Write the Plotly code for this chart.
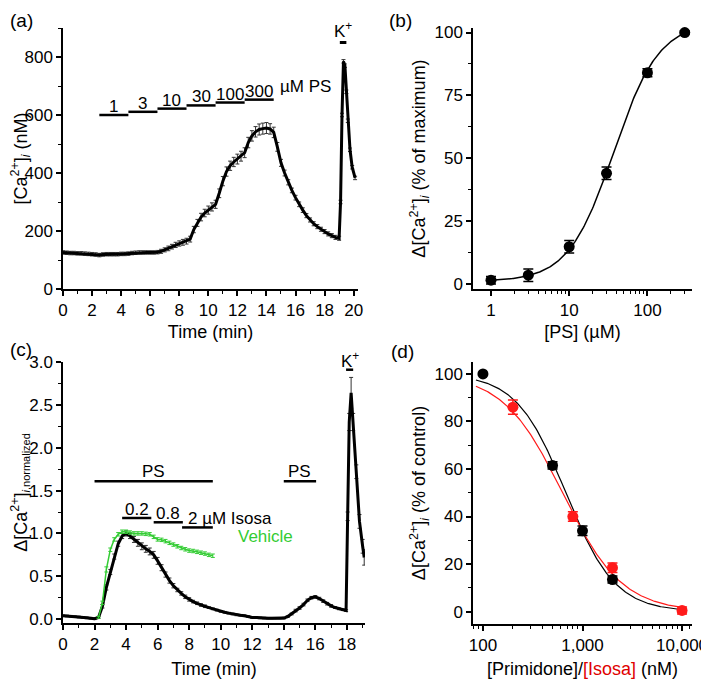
import plotly.graph_objects as go
import numpy as np

# page body adds an 8 px margin; the figure is sized so it fits the 709x679 window
OFF = 8
W, H = 709 - OFF, 679 - OFF
FONT = "Liberation Sans, Arial, sans-serif"
GREEN = "#33cc33"
RED = "#ff1a1a"

# ---------------- Panel (a) data ----------------
a_time = [0, 0.25, 0.5, 0.75, 1, 1.25, 1.5, 1.75, 2, 2.25, 2.5, 2.75, 3, 3.25, 3.5, 3.75,
          4, 4.25, 4.5, 4.75, 5, 5.25, 5.5, 5.75, 6, 6.25, 6.5, 6.75, 7, 7.25, 7.5, 7.75,
          8, 8.25, 8.5, 8.75, 9, 9.25, 9.5, 9.75, 10, 10.25, 10.5, 10.75, 11, 11.25, 11.5, 11.75,
          12, 12.25, 12.5, 12.75, 13, 13.25, 13.5, 13.75, 14, 14.25, 14.5, 14.75, 15, 15.25, 15.5, 15.75,
          16, 16.25, 16.5, 16.75, 17, 17.25, 17.5, 17.75, 18, 18.25, 18.5, 18.75, 19.0,
          19.1, 19.2, 19.3, 19.4, 19.5, 19.6, 19.75, 19.9, 20.1]
a_ca = [126, 125, 124, 124, 123, 123, 122, 121, 120, 119, 117, 119, 120, 120, 120, 120,
        121, 121, 122, 124, 125, 126, 126, 126, 126, 126, 127, 130, 135, 140, 146, 152,
        157, 161, 165, 172, 205, 228, 248, 262, 272, 283, 292, 330, 372, 405, 425, 438,
        448, 458, 470, 505, 528, 542, 550, 553, 555, 552, 540, 490, 435, 400, 368, 340,
        315, 292, 272, 253, 238, 225, 215, 206, 198, 190, 184, 178, 175,
        300, 600, 785, 770, 680, 580, 480, 420, 383]
a_err = [6, 6, 6, 6, 6, 6, 6, 6, 6, 6, 6, 6, 6, 6, 6, 6,
         6, 6, 6, 6, 6, 6, 6, 6, 6, 6, 6, 7, 7, 8, 8, 9,
         9, 10, 10, 10, 11, 12, 13, 13, 14, 14, 14, 15, 16, 16, 16, 16,
         17, 17, 17, 18, 18, 18, 19, 19, 19, 18, 18, 15, 12, 10, 9, 8,
         8, 8, 8, 7, 7, 7, 7, 7, 7, 7, 7, 7, 7,
         6, 6, 6, 6, 6, 6, 6, 6, 6]
a_conc_labels = ["1", "3", "10", "30", "100", "300"]
a_conc_start = [2.5, 4.5, 6.5, 8.5, 10.5, 12.5]
a_conc_end = [4.5, 6.5, 8.5, 10.5, 12.5, 14.5]
a_conc_level = [600, 611, 622, 633, 643, 653]
a_k_start, a_k_end, a_k_level = 19.05, 19.5, 850

# ---------------- Panel (b) data ----------------
b_ps = [1, 3, 10, 30, 100, 300]
b_resp = [1.5, 3.5, 14.8, 44, 84, 100]
b_err = [1.5, 2.5, 2.5, 2.5, 1.6, 0.6]
b_fit = dict(bottom=1.0, top=104.0, ec50=37.0, hill=1.5)

# ---------------- Panel (c) data ----------------
c_time = [0, 0.25, 0.5, 0.75, 1, 1.25, 1.5, 1.75, 2, 2.25, 2.5, 2.75, 3, 3.25, 3.5, 3.75,
          4, 4.25, 4.5, 4.75, 5, 5.25, 5.5, 5.75, 6, 6.25, 6.5, 6.75, 7, 7.25, 7.5, 7.75,
          8, 8.25, 8.5, 8.75, 9, 9.25, 9.5, 9.75, 10, 10.25, 10.5, 10.75, 11, 11.25, 11.5, 11.75,
          12, 12.25, 12.5, 12.75, 13, 13.25, 13.5, 13.75, 14, 14.25, 14.5, 14.75, 15, 15.25, 15.5, 15.75,
          16, 16.25, 16.5, 16.75, 17, 17.25, 17.5, 17.75, 17.95,
          18.05, 18.15, 18.27, 18.4, 18.6, 18.8, 19.0, 19.1]
c_ps = [0.04, 0.037, 0.033, 0.03, 0.025, 0.02, 0.015, 0.01, 0.005, 0.02, 0.15, 0.37, 0.55, 0.73, 0.88, 0.97,
        1.0, 0.97, 0.93, 0.89, 0.85, 0.82, 0.79, 0.75, 0.68, 0.60, 0.52, 0.45, 0.39, 0.34, 0.30, 0.26,
        0.23, 0.205, 0.185, 0.165, 0.15, 0.135, 0.12, 0.105, 0.09, 0.08, 0.07, 0.06, 0.05, 0.045, 0.04, 0.03,
        0.02, 0.02, 0.015, 0.012, 0.01, 0.01, 0.01, 0.01, 0.012, 0.03, 0.06, 0.10, 0.13, 0.17, 0.22, 0.25,
        0.26, 0.24, 0.21, 0.18, 0.155, 0.135, 0.12, 0.11, 0.10,
        1.2, 2.3, 2.64, 2.3, 1.72, 1.14, 0.85, 0.72]
c_ps_err = [0.01, 0.01, 0.01, 0.01, 0.01, 0.01, 0.01, 0.01, 0.01, 0.01, 0.02, 0.03, 0.03, 0.03, 0.03, 0.03,
            0.03, 0.03, 0.035, 0.04, 0.04, 0.04, 0.04, 0.04, 0.04, 0.035, 0.03, 0.03, 0.025, 0.02, 0.02, 0.02,
            0.02, 0.015, 0.015, 0.015, 0.015, 0.01, 0.01, 0.01, 0.01, 0.01, 0.01, 0.01, 0.01, 0.01, 0.01, 0.01,
            0.01, 0.01, 0.01, 0.01, 0.01, 0.01, 0.01, 0.01, 0.01, 0.01, 0.01, 0.015, 0.015, 0.015, 0.015, 0.015,
            0.015, 0.015, 0.015, 0.015, 0.015, 0.01, 0.01, 0.01, 0.01,
            0.05, 0.1, 0.18, 0.1, 0.08, 0.08, 0.08, 0.09]
c_veh_time = [2.25, 2.5, 2.75, 3, 3.25, 3.5, 3.75, 4, 4.25, 4.5, 4.75, 5, 5.25, 5.5, 5.75,
              6, 6.25, 6.5, 6.75, 7, 7.25, 7.5, 7.75, 8, 8.25, 8.5, 8.75, 9, 9.25, 9.5]
c_veh = [0.02, 0.19, 0.58, 0.81, 0.93, 0.99, 1.02, 1.02, 1.01, 1.0, 1.0, 1.0, 0.995, 0.99, 0.96,
         0.93, 0.925, 0.91, 0.89, 0.87, 0.85, 0.83, 0.815, 0.80, 0.795, 0.785, 0.775, 0.765, 0.75, 0.74]
c_veh_err = [0.01, 0.02, 0.03, 0.02, 0.02, 0.02, 0.02, 0.02, 0.02, 0.02, 0.02, 0.02, 0.02, 0.02, 0.02,
             0.02, 0.02, 0.02, 0.02, 0.02, 0.02, 0.02, 0.02, 0.02, 0.02, 0.02, 0.02, 0.02, 0.02, 0.02]
c_ps_bars_start = [2.0, 14.0]
c_ps_bars_end = [9.5, 16.05]
c_ps_level = 1.61
c_iso_labels = ["0.2", "0.8", "2"]
c_iso_start = [3.75, 5.75, 7.55]
c_iso_end = [5.6, 7.6, 9.5]
c_iso_level = [1.18, 1.13, 1.07]
c_k_start, c_k_end, c_k_level = 17.95, 18.4, 2.91

# ---------------- Panel (d) data ----------------
d_prim_conc = [100, 500, 1000, 2000]
d_prim_resp = [100, 61.5, 34, 13.5]
d_prim_err = [0.5, 1.5, 2.0, 1.5]
d_iso_conc = [200, 800, 2000, 10000]
d_iso_resp = [86, 40, 18.5, 0.5]
d_iso_err = [3.0, 2.0, 2.0, 1.5]
d_prim_fit = dict(top=100.0, ic50=680.0, hill=1.75)
d_iso_fit = dict(top=100.0, ic50=630.0, hill=1.45)


def hill_up(x, p):
    x = np.asarray(x, float)
    return p["bottom"] + (p["top"] - p["bottom"]) * x ** p["hill"] / (x ** p["hill"] + p["ec50"] ** p["hill"])


def hill_down(x, p):
    x = np.asarray(x, float)
    return p["top"] / (1 + (x / p["ic50"]) ** p["hill"])


def segs(starts, ends, levels):
    xs, ys = [], []
    if not isinstance(levels, (list, tuple)):
        levels = [levels] * len(starts)
    for s, e, l in zip(starts, ends, levels):
        xs += [s, e, None]
        ys += [l, l, None]
    return xs, ys


def px_dom_x(l, r):
    return [(l - OFF) / W, (r - OFF) / W]


def px_dom_y(top, bottom):
    return [1 - (bottom - OFF) / H, 1 - (top - OFF) / H]


fig = go.Figure()

# ---- (a)
fig.add_trace(go.Scatter(x=a_time, y=a_ca, mode="lines", line=dict(color="black", width=3),
                         error_y=dict(type="data", array=a_err, color="#333", thickness=1, width=2),
                         xaxis="x", yaxis="y", showlegend=False))
bx, by = segs(a_conc_start, a_conc_end, a_conc_level)
fig.add_trace(go.Scatter(x=bx, y=by, mode="lines", line=dict(color="black", width=2.5),
                         xaxis="x", yaxis="y", showlegend=False))
fig.add_trace(go.Scatter(x=[a_k_start, a_k_end], y=[a_k_level] * 2, mode="lines",
                         line=dict(color="black", width=3), xaxis="x", yaxis="y", showlegend=False,
                         cliponaxis=False))

# ---- (b)
bfx = np.logspace(0, np.log10(300), 200)
fig.add_trace(go.Scatter(x=bfx, y=hill_up(bfx, b_fit), mode="lines", line=dict(color="black", width=1.5),
                         xaxis="x2", yaxis="y2", showlegend=False))
fig.add_trace(go.Scatter(x=b_ps, y=b_resp, mode="markers", marker=dict(color="black", size=11),
                         error_y=dict(type="data", array=b_err, color="black", thickness=1.5, width=5),
                         xaxis="x2", yaxis="y2", showlegend=False, cliponaxis=False))

# ---- (c)
fig.add_trace(go.Scatter(x=c_time, y=c_ps, mode="lines", line=dict(color="black", width=3),
                         error_y=dict(type="data", array=c_ps_err, color="#333", thickness=1, width=2),
                         xaxis="x3", yaxis="y3", showlegend=False, cliponaxis=False))
fig.add_trace(go.Scatter(x=c_veh_time, y=c_veh, mode="lines", line=dict(color=GREEN, width=1.5),
                         error_y=dict(type="data", array=c_veh_err, color=GREEN, thickness=1, width=2),
                         xaxis="x3", yaxis="y3", showlegend=False))
px_, py_ = segs(c_ps_bars_start, c_ps_bars_end, c_ps_level)
fig.add_trace(go.Scatter(x=px_, y=py_, mode="lines", line=dict(color="black", width=2.5),
                         xaxis="x3", yaxis="y3", showlegend=False))
ix, iy = segs(c_iso_start, c_iso_end, c_iso_level)
fig.add_trace(go.Scatter(x=ix, y=iy, mode="lines", line=dict(color="black", width=2.5),
                         xaxis="x3", yaxis="y3", showlegend=False))
fig.add_trace(go.Scatter(x=[c_k_start, c_k_end], y=[c_k_level] * 2, mode="lines",
                         line=dict(color="black", width=2.5), xaxis="x3", yaxis="y3", showlegend=False,
                         cliponaxis=False))

# ---- (d)
dfx = np.logspace(np.log10(85), np.log10(10000), 200)
fig.add_trace(go.Scatter(x=dfx, y=hill_down(dfx, d_prim_fit), mode="lines", line=dict(color="black", width=1.2),
                         xaxis="x4", yaxis="y4", showlegend=False))
fig.add_trace(go.Scatter(x=dfx, y=hill_down(dfx, d_iso_fit), mode="lines", line=dict(color=RED, width=1.2),
                         xaxis="x4", yaxis="y4", showlegend=False))
fig.add_trace(go.Scatter(x=d_prim_conc, y=d_prim_resp, mode="markers", marker=dict(color="black", size=11),
                         error_y=dict(type="data", array=d_prim_err, color="black", thickness=1.5, width=5),
                         xaxis="x4", yaxis="y4", showlegend=False, cliponaxis=False))
fig.add_trace(go.Scatter(x=d_iso_conc, y=d_iso_resp, mode="markers", marker=dict(color=RED, size=11),
                         error_y=dict(type="data", array=d_iso_err, color=RED, thickness=1.5, width=5),
                         xaxis="x4", yaxis="y4", showlegend=False, cliponaxis=False))

FS = 17
tickfont = dict(family=FONT, size=FS, color="black")
titlefont = dict(family=FONT, size=18, color="black")
base_axis = dict(showline=True, linecolor="black", linewidth=1.5, ticks="outside", ticklen=5,
                 tickwidth=1.5, tickcolor="black", showgrid=False, zeroline=False, tickfont=tickfont,
                 mirror=False, automargin=False)

minor_lin = lambda d: dict(ticks="outside", ticklen=3, tickwidth=1.2, tickcolor="black", dtick=d, showgrid=False)

fig.update_layout(
    width=W, height=H, paper_bgcolor="white", plot_bgcolor="white",
    margin=dict(l=0, r=0, t=0, b=0, autoexpand=False),
    font=dict(family=FONT, color="black"),
    xaxis=dict(base_axis, domain=px_dom_x(63, 358), range=[0, 20.3], dtick=2, tick0=0,
               minor=minor_lin(1), anchor="y",
               title=dict(text="Time (min)", font=titlefont, standoff=6)),
    yaxis=dict(base_axis, domain=px_dom_y(28, 289), range=[0, 900], dtick=200, tick0=0,
               minor=minor_lin(100), anchor="x",
               title=dict(text="[Ca<sup>2+</sup>]<sub><i>i</i></sub> (nM)", font=titlefont, standoff=2)),
    xaxis2=dict(base_axis, type="log", domain=px_dom_x(473, 692), range=[-0.23, 2.57],
                tickvals=[1, 10, 100], ticktext=["1", "10", "100"], anchor="y2",
                minor=dict(ticks="outside", ticklen=3, tickwidth=1.2, tickcolor="black", showgrid=False,
                           tickvals=[2, 3, 4, 5, 6, 7, 8, 9, 20, 30, 40, 50, 60, 70, 80, 90, 200, 300]),
                title=dict(text="[PS] (\u00b5M)", font=titlefont, standoff=6)),
    yaxis2=dict(base_axis, domain=px_dom_y(28, 289), range=[-2, 101.8], tickvals=[0, 25, 50, 75, 100],
                minor=dict(ticks="outside", ticklen=3, tickwidth=1.2, tickcolor="black", showgrid=False,
                           tickvals=[12.5, 37.5, 62.5, 87.5]), anchor="x2",
                title=dict(text="\u0394[Ca<sup>2+</sup>]<sub><i>i</i></sub> (% of maximum)", font=titlefont, standoff=4)),
    xaxis3=dict(base_axis, domain=px_dom_x(63, 365), range=[0, 19.15], dtick=2, tick0=0,
                minor=minor_lin(1), anchor="y3",
                title=dict(text="Time (min)", font=titlefont, standoff=12)),
    yaxis3=dict(base_axis, domain=px_dom_y(362, 623), range=[-0.045, 3.0], dtick=0.5, tick0=0,
                tickformat=".1f", minor=minor_lin(0.25), anchor="x3",
                title=dict(text="\u0394[Ca<sup>2+</sup>]<sub><span style='font-size:11px'><i>i</i>,normalized</span></sub>",
                           font=titlefont, standoff=2)),
    xaxis4=dict(base_axis, type="log", domain=px_dom_x(473, 692), range=[1.9, 4.1],
                tickvals=[100, 1000, 10000], ticktext=["100", "1,000", "10,000"], anchor="y4",
                minor=dict(ticks="outside", ticklen=3, tickwidth=1.2, tickcolor="black", showgrid=False,
                           tickvals=[80, 90, 200, 300, 400, 500, 600, 700, 800, 900,
                                     2000, 3000, 4000, 5000, 6000, 7000, 8000, 9000, 12000]),
                title=dict(text="[Primidone]/<span style='color:#e00000'>[Isosa]</span> (nM)", font=titlefont, standoff=10)),
    yaxis4=dict(base_axis, domain=px_dom_y(362, 624), range=[-5.2, 105], tickvals=[0, 20, 40, 60, 80, 100],
                minor=dict(ticks="outside", ticklen=3, tickwidth=1.2, tickcolor="black", showgrid=False,
                           tickvals=[10, 30, 50, 70, 90]), anchor="x4",
                title=dict(text="\u0394[Ca<sup>2+</sup>]<sub><i>i</i></sub> (% of control)", font=titlefont, standoff=4)),
)

ann = []
lblfont = dict(family=FONT, size=FS, color="black")
# (a) concentration labels
for lab, s, e, l in zip(a_conc_labels, a_conc_start, a_conc_end, a_conc_level):
    ann.append(dict(x=(s + e) / 2, y=l, xref="x", yref="y", text=lab, showarrow=False,
                    yanchor="bottom", font=lblfont, yshift=-3))
ann.append(dict(x=a_conc_end[-1] + 0.3, y=a_conc_level[-1] + 5, xref="x", yref="y", text="\u00b5M PS",
                showarrow=False, xanchor="left", yanchor="bottom", font=lblfont))
ann.append(dict(x=(a_k_start + a_k_end) / 2, y=a_k_level, xref="x", yref="y", text="K<sup>+</sup>",
                showarrow=False, yanchor="bottom", font=lblfont, yshift=-1))
# (c) labels
for s, e in zip(c_ps_bars_start, c_ps_bars_end):
    ann.append(dict(x=(s + e) / 2, y=c_ps_level, xref="x3", yref="y3", text="PS", showarrow=False,
                    yanchor="bottom", font=lblfont, yshift=-2))
for lab, s, e, l in zip(c_iso_labels[:2], c_iso_start[:2], c_iso_end[:2], c_iso_level[:2]):
    ann.append(dict(x=(s + e) / 2, y=l, xref="x3", yref="y3", text=lab, showarrow=False,
                    yanchor="bottom", font=lblfont, yshift=-3))
ann.append(dict(x=c_iso_start[2] + 0.25, y=c_iso_level[2], xref="x3", yref="y3",
                text=c_iso_labels[2] + " \u00b5M Isosa", showarrow=False, xanchor="left",
                yanchor="bottom", font=lblfont, yshift=-3))
ann.append(dict(x=11.0, y=0.96, xref="x3", yref="y3", text="Vehicle", showarrow=False, xanchor="left",
                yanchor="middle", font=dict(family=FONT, size=FS, color=GREEN)))
ann.append(dict(x=(c_k_start + c_k_end) / 2, y=c_k_level, xref="x3", yref="y3", text="K<sup>+</sup>",
                showarrow=False, yanchor="bottom", font=lblfont, yshift=-3))
# panel letters (screen pixel positions)
for txt, x, y in [("(a)", 8, 8), ("(b)", 387, 8), ("(c)", 8, 337), ("(d)", 389, 339)]:
    ann.append(dict(x=(x - OFF) / W, y=1 - (y - OFF) / H, xref="paper", yref="paper", text=txt, showarrow=False,
                    xanchor="left", yanchor="top", font=dict(family=FONT, size=19, color="black")))
fig.update_layout(annotations=ann)

fig.write_html("out.html")
